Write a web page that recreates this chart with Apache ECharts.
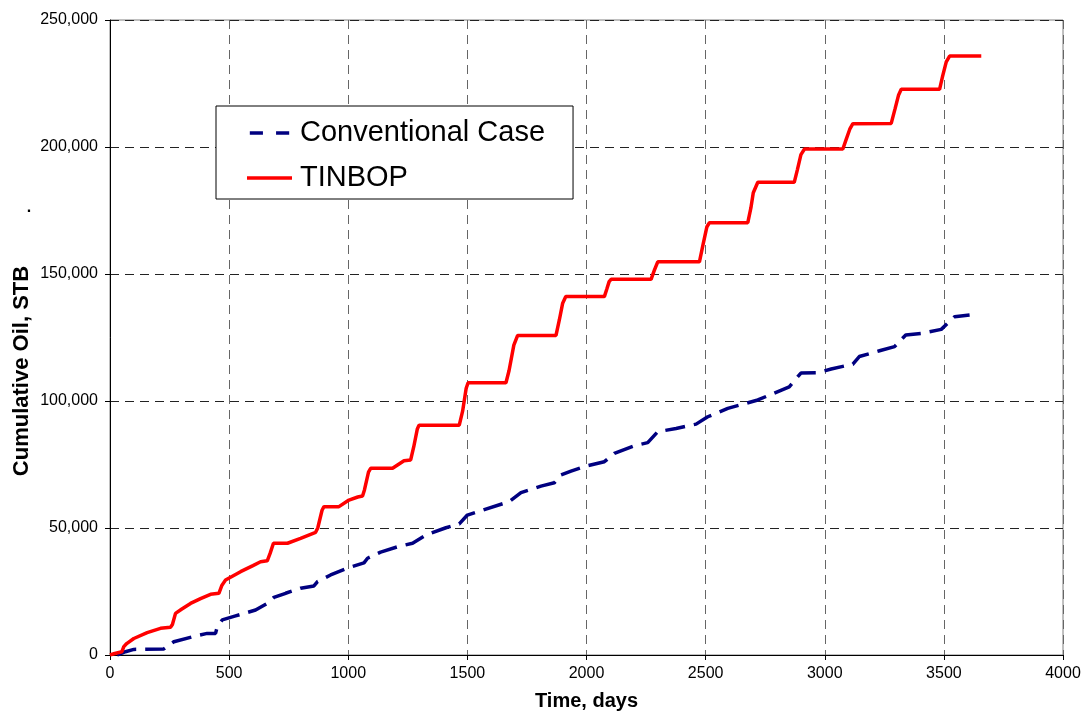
<!DOCTYPE html>
<html>
<head>
<meta charset="utf-8">
<script src="https://cdn.jsdelivr.net/npm/echarts@6/dist/echarts.min.js"></script>
<style>
html,body{margin:0;padding:0;background:#fff;}
#chart{width:1085px;height:717px;}
</style>
</head>
<body>
<div id="chart"></div>
<script>
// ---- data ----
const seriesNames = ["Conventional Case", "TINBOP"];

const convDays = [30,65,100,226,268,359,408,443,450,471,527,611,660,688,737,800,856,871,926,1003,1066,1081,1136,1207,1270,1326,1410,1466,1500,1543,1676,1725,1809,1865,1893,1935,1998,2075,2117,2201,2257,2299,2376,2460,2509,2593,2719,2851,2900,2971,3027,3118,3145,3230,3293,3340,3405,3489,3545,3608];
const convOil  = [0,1300,2200,2400,5200,7500,8500,8500,11100,13800,15400,17700,20300,22700,24300,26300,27200,28900,31500,34400,36300,38100,40500,42600,44000,47200,50100,51600,55100,56400,60400,63900,66500,67800,70900,72400,74400,76100,79400,82400,83600,87900,89200,90900,93800,97100,100400,105600,111000,111100,112600,114500,117500,119800,121400,126000,126600,128200,133200,133900];

const tinDays = [0,20,25,50,58,70,100,156,212,254,262,275,300,338,380,422,457,470,485,548,600,632,660,672,686,745,800,863,872,890,898,961,1003,1040,1060,1068,1085,1094,1186,1234,1262,1275,1290,1297,1466,1480,1495,1503,1662,1675,1695,1711,1872,1886,1900,1913,2075,2085,2095,2103,2271,2285,2299,2474,2490,2505,2516,2677,2690,2700,2719,2872,2885,2900,2915,3076,3090,3105,3118,3279,3295,3310,3321,3482,3495,3510,3524,3657];
const tinOil  = [0,600,1300,1300,3300,4500,6500,8800,10500,10900,12000,16400,18000,20300,22200,23900,24300,27500,29500,32800,35200,36700,37100,40000,44000,44000,45900,48300,50000,57000,58400,58400,61000,62200,62600,65000,72000,73500,73500,76500,76800,82000,89000,90500,90500,96000,105000,107200,107200,112000,122000,125800,125800,131900,138500,141100,141100,144000,147000,147900,147900,151500,154800,154800,162000,168500,170200,170200,176000,182000,186100,186100,191000,197000,199200,199200,203000,207000,209200,209300,215000,220500,222700,222700,228000,233500,235800,235800];

const xTickLabels = ["0","500","1000","1500","2000","2500","3000","3500","4000"];
const yTickLabels = ["0","50,000","100,000","150,000","200,000","250,000"];

const xTitle = "Time, days";
const yTitle = "Cumulative Oil, STB";

// ---- build ----
const zip = (a, b) => a.map((v, i) => [v, b[i]]);
const FONT = "Liberation Sans";

const chart = echarts.init(document.getElementById('chart'), null, {renderer: 'canvas'});
chart.setOption({
  animation: false,
  backgroundColor: '#fff',
  textStyle: {fontFamily: FONT},
  grid: {
    left: 110, right: 22, top: 20, bottom: 62,
    show: true, borderColor: '#808080', borderWidth: 1, backgroundColor: 'transparent'
  },
  xAxis: {
    type: 'value', min: 0, max: 4000, interval: 500,
    name: xTitle, nameLocation: 'middle', nameGap: 36,
    nameTextStyle: {fontFamily: FONT, fontSize: 20, fontWeight: 'bold', color: '#000'},
    axisLine: {show: true, onZero: false, lineStyle: {color: '#000', width: 1}},
    axisTick: {show: true, inside: false, length: 5, lineStyle: {color: '#000'}},
    axisLabel: {
      fontFamily: FONT, fontSize: 16, color: '#000', margin: 11,
      formatter: v => xTickLabels[Math.round(v / 500)]
    },
    splitLine: {show: true, lineStyle: {color: '#666', type: [9, 6], width: 1}}
  },
  yAxis: {
    type: 'value', min: 0, max: 250000, interval: 50000,
    axisLine: {show: true, onZero: false, lineStyle: {color: '#000', width: 1}},
    axisTick: {show: true, inside: false, length: 5, lineStyle: {color: '#000'}},
    axisLabel: {
      fontFamily: FONT, fontSize: 16, color: '#000', margin: 12,
      formatter: v => yTickLabels[Math.round(v / 50000)]
    },
    splitLine: {show: true, lineStyle: {color: '#222', type: [9, 6], width: 1}}
  },
  legend: {
    orient: 'vertical',
    left: 216, top: 106,
    padding: [10, 28, 4, 31],
    itemGap: 11,
    itemWidth: 45, itemHeight: 3.5,
    backgroundColor: '#fff',
    borderColor: '#000', borderWidth: 1,
    textStyle: {fontFamily: FONT, fontSize: 29, color: '#000', lineHeight: 34, padding: [0, 0, 0, 3]},
    data: [
      {name: seriesNames[0], icon: 'path://M0,0 L15,0 L15,4 L0,4 Z M30,0 L45,0 L45,4 L30,4 Z', itemStyle: {color: '#000080'}},
      {name: seriesNames[1], icon: 'rect', itemStyle: {color: '#ff0000'}}
    ]
  },
  series: [
    {
      name: seriesNames[0], type: 'line', data: zip(convDays, convOil),
      showSymbol: false, symbol: 'none',
      lineStyle: {color: '#000080', width: 3.5, type: [20, 9]},
      itemStyle: {color: '#000080'},
      z: 3
    },
    {
      name: seriesNames[1], type: 'line', data: zip(tinDays, tinOil),
      showSymbol: false, symbol: 'none',
      lineStyle: {color: '#ff0000', width: 3.5, type: 'solid'},
      itemStyle: {color: '#ff0000'},
      z: 4
    }
  ],
  graphic: [
    {
      type: 'text', x: 22, y: 371, rotation: Math.PI / 2,
      style: {text: yTitle, font: 'bold 22px "Liberation Sans"', fill: '#000', align: 'center', verticalAlign: 'middle'}
    },
    {
      type: 'text', x: 29, y: 208,
      style: {text: '.', font: 'bold 16px "Liberation Sans"', fill: '#000', align: 'center', verticalAlign: 'middle'}
    }
  ]
});
</script>
</body>
</html>
